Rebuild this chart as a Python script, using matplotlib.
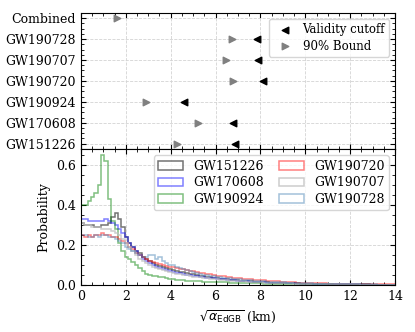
#!/usr/bin/env python3

import numpy as np
import matplotlib
matplotlib.use("Agg")
import matplotlib.pyplot as plt
from matplotlib.ticker import AutoMinorLocator, MultipleLocator

plt.rcParams["font.family"] = ["DejaVu Serif"]
plt.rcParams["font.size"] = 9
plt.rcParams["xtick.direction"] = "in"
plt.rcParams["ytick.direction"] = "in"
plt.rcParams["xtick.top"] = True
plt.rcParams["ytick.right"] = True

# TOP PANEL: bounds per event (km)
events = ["GW151226", "GW170608", "GW190924", "GW190720",
          "GW190707", "GW190728", "Combined"]
validity_cutoff = [6.87, 6.76, 4.58, 8.10, 7.88, 7.83, np.nan]
bound_90 = [4.29, 5.23, 2.88, 6.79, 6.46, 6.75, 1.59]

# BOTTOM PANEL: histogram heights, bins of 0.15 km from 0
bin_width = 0.15

GW151226 = [
    0.31, 0.30, 0.30, 0.30, 0.29, 0.29, 0.30, 0.30, 0.31, 0.34,
    0.36, 0.33, 0.29, 0.24, 0.21, 0.19, 0.17, 0.16, 0.14, 0.13,
    0.12, 0.11, 0.10, 0.095, 0.09, 0.085, 0.08, 0.075, 0.07, 0.066,
    0.062, 0.058, 0.055, 0.052, 0.049, 0.046, 0.043, 0.040, 0.038, 0.035,
    0.033, 0.031, 0.029, 0.027, 0.025, 0.024, 0.022, 0.021, 0.019, 0.018,
    0.017, 0.016, 0.015, 0.014, 0.013, 0.012, 0.011, 0.011, 0.010, 0.009,
    0.009, 0.008, 0.008, 0.007, 0.007, 0.006, 0.006, 0.005, 0.005, 0.005,
    0.004, 0.004, 0.004, 0.004, 0.003, 0.003, 0.003, 0.003, 0.003, 0.002,
    0.002, 0.002, 0.002, 0.002, 0.002, 0.002, 0.001, 0.001, 0.001, 0.001,
    0.001, 0.001, 0.001, 0.001]
GW170608 = [
    0.33, 0.33, 0.32, 0.32, 0.32, 0.32, 0.32, 0.33, 0.32, 0.31,
    0.30, 0.28, 0.26, 0.24, 0.21, 0.19, 0.17, 0.15, 0.13, 0.12,
    0.11, 0.10, 0.09, 0.085, 0.08, 0.075, 0.07, 0.065, 0.061, 0.057,
    0.054, 0.051, 0.048, 0.045, 0.042, 0.040, 0.038, 0.036, 0.034, 0.032,
    0.030, 0.028, 0.027, 0.025, 0.024, 0.022, 0.021, 0.020, 0.018, 0.017,
    0.016, 0.015, 0.014, 0.013, 0.012, 0.011, 0.011, 0.010, 0.009, 0.009,
    0.008, 0.008, 0.007, 0.007, 0.006, 0.006, 0.005, 0.005, 0.005, 0.004,
    0.004, 0.004, 0.003, 0.003, 0.003, 0.003, 0.003, 0.002, 0.002, 0.002,
    0.002, 0.002, 0.002, 0.001, 0.001, 0.001, 0.001, 0.001, 0.001, 0.001,
    0.001, 0.001, 0.001, 0.001]
GW190924 = [
    0.40, 0.40, 0.42, 0.44, 0.46, 0.50, 0.65, 0.62, 0.43, 0.32,
    0.28, 0.21, 0.17, 0.14, 0.13, 0.115, 0.10, 0.085, 0.07, 0.055,
    0.050, 0.045, 0.042, 0.040, 0.037, 0.034, 0.031, 0.028, 0.026, 0.024,
    0.022, 0.021, 0.020, 0.019, 0.018, 0.017, 0.016, 0.016, 0.015, 0.014,
    0.014, 0.013, 0.012, 0.012, 0.011, 0.010, 0.010, 0.009, 0.009, 0.008,
    0.008, 0.007, 0.007, 0.007, 0.006, 0.006, 0.005, 0.005, 0.005, 0.004,
    0.004, 0.004, 0.004, 0.003, 0.003, 0.003, 0.003, 0.003, 0.002, 0.002,
    0.002, 0.002, 0.002, 0.002, 0.002, 0.001, 0.001, 0.001, 0.001, 0.001,
    0.001, 0.001, 0.001, 0.001, 0.001, 0.001, 0.001, 0.001, 0.001, 0.001,
    0.001, 0.001, 0.001, 0.001]
GW190720 = [
    0.25, 0.24, 0.25, 0.24, 0.25, 0.25, 0.26, 0.25, 0.25, 0.24,
    0.24, 0.23, 0.22, 0.21, 0.19, 0.18, 0.16, 0.15, 0.14, 0.13,
    0.12, 0.115, 0.11, 0.105, 0.10, 0.095, 0.09, 0.087, 0.084, 0.080,
    0.077, 0.074, 0.070, 0.067, 0.064, 0.061, 0.058, 0.055, 0.052, 0.049,
    0.046, 0.044, 0.042, 0.040, 0.038, 0.036, 0.034, 0.032, 0.031, 0.029,
    0.028, 0.026, 0.025, 0.023, 0.022, 0.020, 0.019, 0.018, 0.017, 0.016,
    0.015, 0.014, 0.013, 0.012, 0.011, 0.011, 0.010, 0.009, 0.009, 0.008,
    0.008, 0.007, 0.007, 0.006, 0.006, 0.006, 0.005, 0.005, 0.005, 0.004,
    0.004, 0.004, 0.004, 0.003, 0.003, 0.003, 0.003, 0.003, 0.002, 0.002,
    0.002, 0.002, 0.002, 0.002]
GW190707 = [
    0.31, 0.30, 0.30, 0.29, 0.29, 0.29, 0.28, 0.28, 0.28, 0.27,
    0.26, 0.25, 0.23, 0.21, 0.19, 0.17, 0.15, 0.13, 0.12, 0.11,
    0.10, 0.09, 0.085, 0.08, 0.075, 0.07, 0.065, 0.060, 0.056, 0.053,
    0.050, 0.047, 0.044, 0.041, 0.039, 0.037, 0.035, 0.033, 0.031, 0.029,
    0.027, 0.026, 0.024, 0.023, 0.021, 0.020, 0.019, 0.018, 0.017, 0.016,
    0.015, 0.014, 0.013, 0.012, 0.011, 0.011, 0.010, 0.009, 0.009, 0.008,
    0.008, 0.007, 0.007, 0.006, 0.006, 0.005, 0.005, 0.005, 0.004, 0.004,
    0.004, 0.004, 0.003, 0.003, 0.003, 0.003, 0.002, 0.002, 0.002, 0.002,
    0.002, 0.002, 0.002, 0.001, 0.001, 0.001, 0.001, 0.001, 0.001, 0.001,
    0.001, 0.001, 0.001, 0.001]
GW190728 = [
    0.25, 0.25, 0.24, 0.24, 0.25, 0.24, 0.25, 0.25, 0.24, 0.24,
    0.23, 0.22, 0.21, 0.19, 0.18, 0.17, 0.16, 0.15, 0.14, 0.14,
    0.15, 0.15, 0.13, 0.14, 0.12, 0.11, 0.10, 0.10, 0.09, 0.085,
    0.080, 0.075, 0.070, 0.065, 0.060, 0.055, 0.051, 0.048, 0.045, 0.043,
    0.040, 0.038, 0.036, 0.034, 0.032, 0.030, 0.028, 0.027, 0.025, 0.024,
    0.022, 0.021, 0.020, 0.018, 0.017, 0.016, 0.015, 0.014, 0.013, 0.012,
    0.012, 0.011, 0.010, 0.009, 0.009, 0.008, 0.008, 0.007, 0.007, 0.006,
    0.006, 0.005, 0.005, 0.005, 0.004, 0.004, 0.004, 0.003, 0.003, 0.003,
    0.003, 0.003, 0.002, 0.002, 0.002, 0.002, 0.002, 0.002, 0.001, 0.001,
    0.001, 0.001, 0.001, 0.001]

hists = {
    "GW151226": (GW151226, "black", 0.55),
    "GW170608": (GW170608, "blue", 0.5),
    "GW190924": (GW190924, "green", 0.5),
    "GW190720": (GW190720, "red", 0.5),
    "GW190707": (GW190707, "silver", 0.8),
    "GW190728": (GW190728, "steelblue", 0.5),
}

fig, (ax1, ax2) = plt.subplots(2, 1, sharex=True, figsize=(4.15, 3.32), dpi=100)
fig.subplots_adjust(left=0.195, right=0.952, bottom=0.142, top=0.961, hspace=0)

# Top panel
ypos = np.arange(len(events))
ax1.scatter(validity_cutoff, ypos, marker="<", color="black", s=22,
            label="Validity cutoff", zorder=3)
ax1.scatter(bound_90, ypos, marker=">", color="gray", s=22,
            label="90% Bound", zorder=3)
ax1.set_yticks(ypos)
ax1.set_yticklabels(events)
ax1.set_ylim(-0.25, len(events) - 0.75)
ax1.yaxis.set_minor_locator(AutoMinorLocator(4))
ax1.grid(True, ls="--", color="lightgray", lw=0.6)
ax1.legend(loc="upper right", scatterpoints=1, fontsize=8.5,
           handletextpad=0.5, borderpad=0.35, labelspacing=0.3)
ax1.tick_params(labelbottom=False)

# Bottom panel
for label, (vals, col, a) in hists.items():
    edges = np.arange(len(vals) + 1) * bin_width
    centers = 0.5 * (edges[:-1] + edges[1:])
    ax2.hist(centers, bins=edges, weights=vals, histtype="step",
             color=col, alpha=a, lw=1.1, label=label)

ax2.legend(loc="upper right", ncol=2, fontsize=9,
           columnspacing=1.2, handlelength=2.0, labelspacing=0.3,
           borderpad=0.35)
ax2.set_xlim(0, 14)
ax2.set_ylim(0, 0.68)
ax2.xaxis.set_major_locator(MultipleLocator(2))
ax2.xaxis.set_minor_locator(MultipleLocator(0.5))
ax2.yaxis.set_major_locator(MultipleLocator(0.2))
ax2.yaxis.set_minor_locator(MultipleLocator(0.05))
ax2.grid(True, ls="--", color="lightgray", lw=0.6)
ax2.set_ylabel("Probability")
ax2.set_xlabel(r"$\sqrt{\alpha_{\rm EdGB}}$ (km)")

for ax in (ax1, ax2):
    ax.tick_params(which="major", length=3.5, width=0.8)
    ax.tick_params(which="minor", length=2, width=0.6)
    ax.set_axisbelow(True)

plt.savefig("out.png", dpi=100)
plt.close()
